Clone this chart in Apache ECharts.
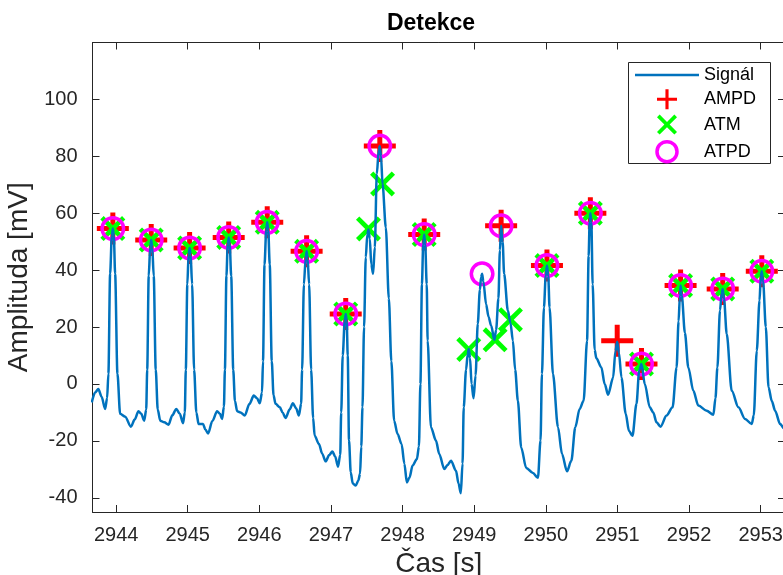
<!DOCTYPE html>
<html>
<head>
<meta charset="utf-8">
<script src="https://cdn.jsdelivr.net/npm/echarts@6/dist/echarts.min.js"></script>
<style>
  html, body { margin: 0; padding: 0; background: #fff; }
  #chart { width: 783px; height: 575px; }
</style>
</head>
<body>
<div id="chart"></div>
<script>
// signál (čas v s, amplituda v mV)
const time = [
  2943.660, 2943.706, 2943.752, 2943.797, 2943.846, 2943.874, 2943.892, 2943.916, 2943.940, 2943.954,
  2943.968, 2943.986, 2944.018, 2944.056, 2944.126, 2944.206, 2944.259, 2944.312, 2944.350, 2944.392,
  2944.420, 2944.434, 2944.455, 2944.476, 2944.490, 2944.504, 2944.525, 2944.553, 2944.581, 2944.616,
  2944.672, 2944.732, 2944.784, 2944.840, 2944.889, 2944.934, 2944.959, 2944.973, 2944.994, 2945.012,
  2945.026, 2945.040, 2945.061, 2945.089, 2945.120, 2945.152, 2945.214, 2945.246, 2945.284, 2945.344,
  2945.410, 2945.449, 2945.480, 2945.505, 2945.519, 2945.540, 2945.558, 2945.572, 2945.586, 2945.607,
  2945.635, 2945.659, 2945.690, 2945.736, 2945.796, 2945.862, 2945.922, 2945.967, 2946.006, 2946.037,
  2946.051, 2946.072, 2946.096, 2946.110, 2946.124, 2946.145, 2946.173, 2946.198, 2946.226, 2946.286,
  2946.324, 2946.366, 2946.422, 2946.468, 2946.513, 2946.552, 2946.583, 2946.597, 2946.622, 2946.646,
  2946.660, 2946.674, 2946.695, 2946.723, 2946.751, 2946.772, 2946.832, 2946.877, 2946.926, 2946.975,
  2947.020, 2947.059, 2947.098, 2947.129, 2947.143, 2947.164, 2947.192, 2947.206, 2947.220, 2947.234,
  2947.252, 2947.276, 2947.304, 2947.346, 2947.381, 2947.406, 2947.423, 2947.440, 2947.462, 2947.486,
  2947.507, 2947.524, 2947.542, 2947.563, 2947.588, 2947.612, 2947.640, 2947.668, 2947.682, 2947.699,
  2947.720, 2947.766, 2947.808, 2947.843, 2947.882, 2947.930, 2947.986, 2948.025, 2948.060, 2948.095,
  2948.140, 2948.200, 2948.228, 2948.249, 2948.270, 2948.288, 2948.302, 2948.316, 2948.337, 2948.350,
  2948.396, 2948.466, 2948.512, 2948.582, 2948.627, 2948.676, 2948.746, 2948.781, 2948.813, 2948.837,
  2948.854, 2948.886, 2948.910, 2948.924, 2948.942, 2948.963, 2948.991, 2949.019, 2949.050, 2949.079,
  2949.096, 2949.110, 2949.128, 2949.166, 2949.201, 2949.236, 2949.282, 2949.306, 2949.338, 2949.359,
  2949.376, 2949.397, 2949.418, 2949.470, 2949.506, 2949.540, 2949.572, 2949.610, 2949.656, 2949.726,
  2949.820, 2949.890, 2949.926, 2949.946, 2949.974, 2949.999, 2950.016, 2950.034, 2950.052, 2950.100,
  2950.170, 2950.226, 2950.296, 2950.356, 2950.412, 2950.472, 2950.528, 2950.576, 2950.598, 2950.612,
  2950.622, 2950.636, 2950.654, 2950.682, 2950.706, 2950.776, 2950.822, 2950.870, 2950.940, 2950.972,
  2950.997, 2951.021, 2951.056, 2951.116, 2951.161, 2951.210, 2951.266, 2951.304, 2951.336, 2951.382,
  2951.452, 2951.500, 2951.546, 2951.602, 2951.686, 2951.770, 2951.826, 2951.854, 2951.872, 2951.882,
  2951.899, 2951.942, 2951.990, 2952.060, 2952.130, 2952.246, 2952.340, 2952.369, 2952.396, 2952.432,
  2952.456, 2952.470, 2952.488, 2952.526, 2952.596, 2952.690, 2952.782, 2952.876, 2952.904, 2952.946,
  2952.984, 2953.002, 2953.016, 2953.034, 2953.072, 2953.110, 2953.156, 2953.202, 2953.272, 2953.334,
  2953.380
]
const signal = [
  -6.5, -3, -1.8, -4.5, -8.8, -5, 3.6, 38.8, 52, 54.6,
  52, 38.8, 3.6, -10.5, -11.5, -15, -12.5, -9.6, -10.5, -12.9,
  -9, 5, 38, 48, 50.6, 48, 38, 5, -9, -12.9,
  -13.5, -14.3, -11, -8.8, -10.5, -13.8, -10, 5, 35, 45.5,
  47.8, 45.5, 35, 5, -10, -14.1, -14.1, -16, -17.4, -13,
  -9.6, -10.5, -12.3, -8, 5, 38, 49, 51.5, 49, 38,
  5, -6, -9.6, -10, -11.1, -7, -4.1, -5, -6.8, -3,
  8, 42, 54, 56.8, 54, 42, 8, -4, -7, -8.2,
  -10, -12, -9, -6.8, -8.5, -11.1, -7, 5, 35, 44,
  46.6, 44, 35, 5, -12, -18.2, -21.1, -24.5, -27.2, -25,
  -23.7, -25.5, -29.1, -25, -10, 10, 22, 24.6, 22, 10,
  -19.9, -31, -35, -35.7, -34, -31.6, -22, -8.2, 20, 44.5,
  52.5, 54.3, 51, 42, 38.7, 48, 73.8, 82.5, 83.6, 80,
  70.3, 55, 30, 8, -12.9, -17.6, -21.1, -28, -34.6, -33,
  -28.7, -26.4, -22, 0, 35, 49, 52.5, 49, 35, 15.2,
  -15.2, -19.9, -24.6, -29.9, -28.5, -27, -30.5, -35, -38.4, -28,
  -8.2, 5, 10.5, 12.3, 9, 0, -5, 3, 21.2, 33,
  37.5, 38.7, 36, 28, 23.5, 20.5, 15.5, 19, 30, 47,
  55.6, 50, 38.7, 25.8, 21.5, 15.2, 5, -5.9, -22.3, -29.5,
  -31.3, -33, -19.9, 3.5, 26.9, 38, 41.6, 38, 26.9, 3.5,
  -15.2, -24.6, -30.7, -27, -15.2, -8.8, -5.9, 15.2, 45, 57,
  60, 57, 35, 12, 9, 5.8, 0, -3.8, 2.3, 11.5,
  14.8, 11, 2.3, -10.5, -16.5, -18.2, -7, 4.7, 7, 0,
  -8.2, -10, -13.5, -15, -11.1, -8.2, 5.8, 22, 31, 34.6,
  31, 18, 5.8, -2.4, -7.6, -9.4, -10.8, -5, 5.8, 25.8,
  32, 33.4, 30, 17.6, -2.4, -8.2, -12.3, -14.1, -11, 11.7,
  29.3, 37.5, 39.6, 36, 20, -1.2, -6, -9.4, -14.1, -15.8,
  -17
]

// detekce - AMPD
const ampdT = [2943.954, 2944.490, 2945.026, 2945.572, 2946.110, 2946.660, 2947.206, 2947.682, 2948.302,
  2949.376, 2950.016, 2950.622, 2950.997, 2951.336, 2951.882, 2952.470, 2953.016]
const ampdV = [54.6, 50.6, 47.8, 51.5, 56.8, 46.6, 24.6, 83.6, 52.5,
  55.6, 41.6, 60, 15.2, 7, 34.6, 33.4, 39.6]
// detekce - ATM
const atmT = [2943.954, 2944.490, 2945.026, 2945.572, 2946.110, 2946.660, 2947.206, 2947.524, 2947.720,
  2948.302, 2948.924, 2949.292, 2949.506, 2950.016, 2950.622, 2951.336, 2951.882, 2952.470, 2953.016]
const atmV = [54.6, 50.6, 47.8, 51.5, 56.8, 46.6, 24.6, 54.5, 70.3,
  52.5, 12.1, 15.5, 22.6, 41.6, 60, 7, 34.6, 33.4, 39.6]
// detekce - ATPD
const atpdT = [2943.954, 2944.490, 2945.026, 2945.572, 2946.110, 2946.660, 2947.206, 2947.682, 2948.302,
  2949.110, 2949.376, 2950.016, 2950.622, 2951.336, 2951.882, 2952.470, 2953.016]
const atpdV = [54.6, 50.6, 47.8, 51.5, 56.8, 46.6, 24.6, 83.6, 52.5,
  38.7, 55.6, 41.6, 60, 7, 34.6, 33.4, 39.6]

const xTicks = [2944, 2945, 2946, 2947, 2948, 2949, 2950, 2951, 2952, 2953]
const yTicks = [-40, -20, 0, 20, 40, 60, 80, 100]

const zip = (a, b) => a.map((v, i) => [v, b[i]])

// znacky jako v matlabu
const plusPath = 'path://M13.5,0H18.5V13.5H32V18.5H18.5V32H13.5V18.5H0V13.5H13.5Z'
const crossPath = 'path://M0,3.3L3.3,0L12.5,9.2L21.7,0L25,3.3L15.8,12.5L25,21.7L21.7,25L12.5,15.8L3.3,25L0,21.7L9.2,12.5Z'
const linePath = 'path://M0,0H64V2.4H0Z'

const axisColor = '#262626'
const fontFamily = '"Liberation Sans", Arial, sans-serif'

let myChart = echarts.init(document.getElementById('chart'))

let xBase = {
  type: 'value',
  min: 2943.67,
  max: 2953.34,
  splitLine: { show: false },
  axisLine: { show: true, onZero: false, lineStyle: { color: axisColor, width: 1 } },
  axisTick: { show: true, inside: true, length: 7, customValues: xTicks, lineStyle: { color: axisColor } }
}
let yBase = {
  type: 'value',
  min: -45,
  max: 120,
  splitLine: { show: false },
  axisLine: { show: true, onZero: false, lineStyle: { color: axisColor, width: 1 } },
  axisTick: { show: true, inside: true, length: 7, customValues: yTicks, lineStyle: { color: axisColor } }
}

let option = {
  animation: false,
  backgroundColor: '#fff',
  textStyle: { fontFamily: fontFamily },
  title: {
    text: 'Detekce',
    left: 426,
    textAlign: 'center',
    top: 7,
    textStyle: { fontSize: 23, fontWeight: 'bold', color: '#000', fontFamily: fontFamily }
  },
  grid: { left: 92.5, top: 42.5, width: 692.5, height: 469.5, containLabel: false, outerBoundsMode: 'none' },
  // ramecek legendy
  graphic: [{
    type: 'rect',
    z: 3,
    shape: { x: 628.5, y: 62.5, width: 142, height: 101 },
    style: { fill: '#fff', stroke: axisColor, lineWidth: 1 }
  }],
  legend: {
    orient: 'vertical',
    left: 628,
    top: 62,
    padding: [4, 0, 4, 7],
    itemWidth: 64,
    itemHeight: 20,
    itemGap: 5.3,
    z: 5,
    textStyle: { fontSize: 18, color: '#000', fontFamily: fontFamily },
    data: [
      { name: 'Signál', icon: linePath, itemStyle: { color: '#0072bd' } },
      { name: 'AMPD', icon: plusPath },
      { name: 'ATM', icon: crossPath },
      { name: 'ATPD', icon: 'circle', itemStyle: { color: 'rgba(0,0,0,0)', borderColor: '#ff00ff', borderWidth: 3.5 } }
    ]
  },
  xAxis: [
    Object.assign({}, xBase, {
      position: 'bottom',
      name: 'Čas [s]',
      nameLocation: 'middle',
      nameGap: 37,
      nameTextStyle: { fontSize: 28, color: axisColor, fontFamily: fontFamily },
      axisLabel: {
        show: true, customValues: xTicks, fontSize: 20, color: axisColor, margin: 13, fontFamily: fontFamily,
        formatter: function (v) { return String(v) }
      }
    }),
    Object.assign({}, xBase, { position: 'top', axisLabel: { show: false } })
  ],
  yAxis: [
    Object.assign({}, yBase, {
      position: 'left',
      name: 'Amplituda [mV]',
      nameLocation: 'middle',
      nameGap: 53,
      nameTextStyle: { fontSize: 28, color: axisColor, fontFamily: fontFamily },
      axisLabel: {
        show: true, customValues: yTicks, fontSize: 20, color: axisColor, margin: 15, fontFamily: fontFamily,
        formatter: function (v) { return String(v) }
      }
    }),
    Object.assign({}, yBase, { position: 'right', axisLabel: { show: false } })
  ],
  series: [
    {
      name: 'Signál',
      type: 'line',
      data: zip(time, signal),
      showSymbol: false,
      symbol: 'none',
      smooth: 0.3,
      smoothMonotone: 'x',
      lineStyle: { color: '#0072bd', width: 2.5 },
      itemStyle: { color: '#0072bd' }
    },
    {
      name: 'AMPD',
      type: 'scatter',
      data: zip(ampdT, ampdV),
      symbol: plusPath,
      symbolSize: 32,
      itemStyle: { color: '#ff0000', opacity: 1 }
    },
    {
      name: 'ATM',
      type: 'scatter',
      data: zip(atmT, atmV),
      symbol: crossPath,
      symbolSize: 25,
      itemStyle: { color: '#00ff00', opacity: 1 }
    },
    {
      name: 'ATPD',
      type: 'scatter',
      data: zip(atpdT, atpdV),
      symbol: 'circle',
      symbolSize: 21.5,
      itemStyle: { color: 'rgba(0,0,0,0)', borderColor: '#ff00ff', borderWidth: 3.5, opacity: 1 }
    }
  ]
}
myChart.setOption(option)
</script>
</body>
</html>
